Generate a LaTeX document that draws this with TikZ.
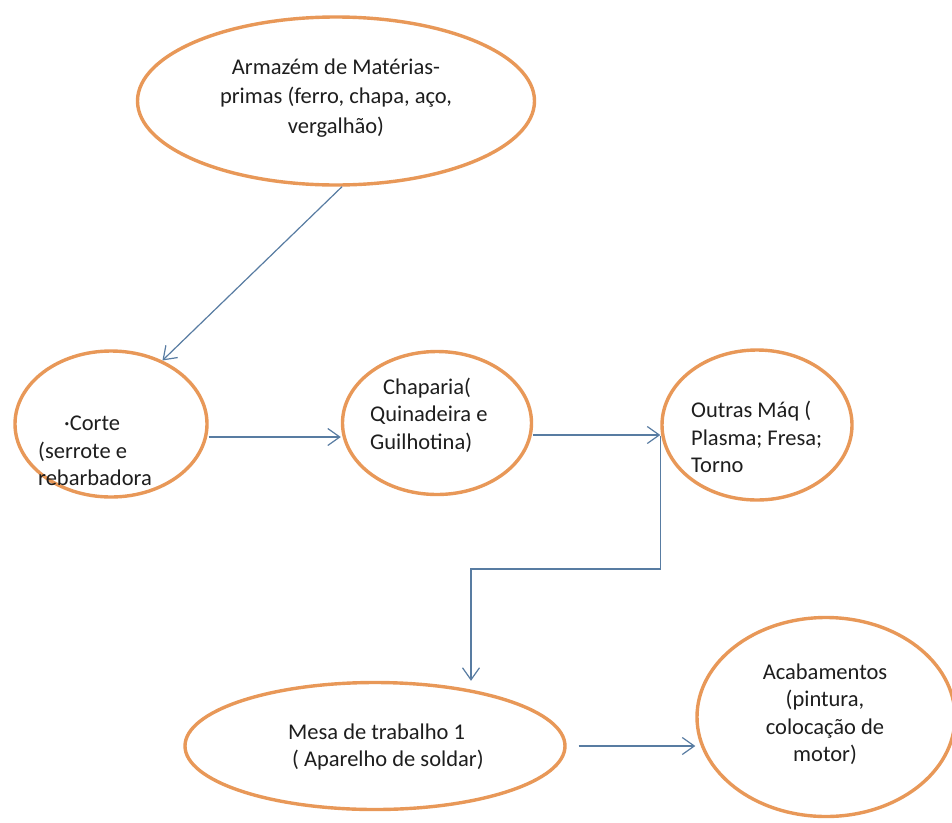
\documentclass[tikz,border=0pt]{standalone}
\usepackage{fontspec}
\setmainfont{Carlito}
\usetikzlibrary{shapes.geometric,arrows.meta}

\definecolor{ring}{RGB}{232,152,88}
\definecolor{flow}{RGB}{88,124,162}
\definecolor{ink}{RGB}{30,30,30}

\tikzset{
  station/.style={ellipse, draw=ring, line width=3.4pt, fill=white, inner sep=0pt},
  lbl/.style={font=\fontsize{22.5}{27.5}\selectfont, text=ink, inner sep=0pt},
  arr/.style={draw=flow, line width=1.2pt, -{Straight Barb[length=12pt,width=17pt,line width=1.2pt]}},
}

\begin{document}
\begin{tikzpicture}[x=1pt,y=-1pt]
  \useasboundingbox (0,0) rectangle (952,822);
  \fill[white] (0,0) rectangle (952,822);
  \clip (0,0) rectangle (952,822);

  % process stations
  \node[station, minimum width=397pt, minimum height=168pt] (armazem) at (336,101) {};
  \node[station, minimum width=192pt, minimum height=146pt] (corte)   at (111,424) {};
  \node[station, minimum width=189pt, minimum height=143pt] (chap)    at (437,423) {};
  \node[station, minimum width=190pt, minimum height=150pt] (outras)  at (757,425) {};
  \node[station, minimum width=380pt, minimum height=127pt] (mesa)    at (375,746) {};
  \node[station, minimum width=258pt, minimum height=199pt] (acab)    at (826,717) {};

  % station texts
  \node[lbl, align=center, font=\fontsize{22.5}{29.5}\selectfont] (t-armazem) at (336,98)
    {Armazém de Matérias-\\primas (ferro, chapa, aço,\\vergalhão)};
  \node[lbl, align=left, anchor=west] (t-corte) at (38,451)
    {\hspace*{26pt}·Corte\\(serrote e\\rebarbadora};
  \node[lbl, align=left, anchor=west] (t-chap) at (370,415)
    {\hspace*{13pt}Chaparia(\\Quinadeira e\\Guilhotina)};
  \node[lbl, align=left, anchor=west] (t-outras) at (691,437)
    {Outras Máq (\\Plasma; Fresa;\\Torno};
  \node[lbl, align=left, anchor=west] (t-mesa) at (288,747)
    {Mesa de trabalho 1\\\hspace*{4pt}( Aparelho de soldar)};
  \node[lbl, align=center] (t-acab) at (825,714)
    {Acabamentos\\(pintura,\\colocação de\\motor)};

  % material flow
  \draw[arr] ([xshift=6pt]armazem.south) -- (corte.51);
  \draw[arr] ([yshift=-13pt]corte.east) -- ([yshift=-13pt]corte.east -| chap.west);
  \draw[arr] ([yshift=-12pt]chap.east) -- ([yshift=-12pt]chap.east -| outras.west);
  \coordinate (bend) at (471,569);
  \draw[arr] ([yshift=-11pt]outras.west) |- (bend) -- (bend |- mesa.north);
  \draw[arr] ([xshift=12pt]mesa.east) -- (mesa.east -| acab.west);
\end{tikzpicture}
\end{document}
